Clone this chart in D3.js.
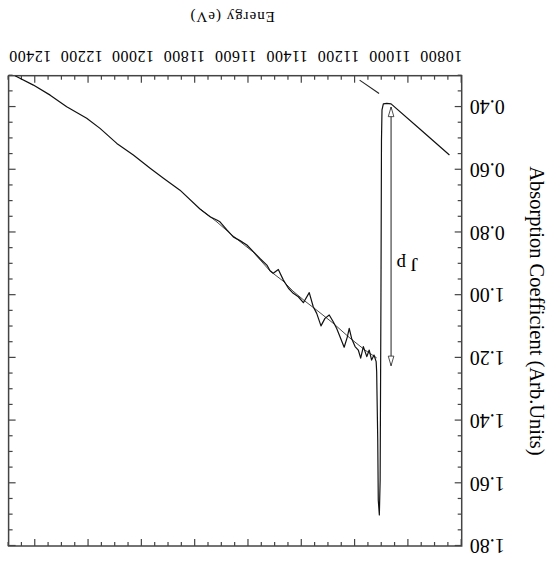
<!DOCTYPE html>
<html>
<head>
<meta charset="utf-8">
<script src="https://cdn.jsdelivr.net/npm/d3@7"></script>
<style>
  body { margin: 0; background: #fff; }
  svg { display: block; font-family: "Liberation Serif", "Times New Roman", serif; }
</style>
</head>
<body>
<svg id="chart" width="548" height="561"></svg>
<script>
// tick labels
const energyTicks = [10800, 11000, 11200, 11400, 11600, 11800, 12000, 12200, 12400];
const absTicks = [0.40, 0.60, 0.80, 1.00, 1.20, 1.40, 1.60, 1.80];

// measured spectrum (energy eV, absorption arb. units)
const specE = [10846, 10956, 11065, 11081, 11094, 11099, 11101, 11103, 11106, 11109, 11113, 11115, 11118,
  11119, 11121, 11129, 11138, 11147, 11156, 11169, 11179, 11188, 11200, 11213, 11222, 11229, 11241,
  11254, 11269, 11282, 11297, 11313, 11328, 11344, 11357, 11372, 11394, 11413, 11432, 11450, 11469,
  11488, 11507, 11519, 11531, 11557, 11582, 11606, 11632, 11657, 11681, 11707, 11719, 11744, 11782,
  11857, 11919, 11969, 12032, 12094, 12157, 12207, 12282, 12344, 12407, 12476];
const specA = [0.553, 0.471, 0.390, 0.388, 0.390, 0.409, 0.505, 1.015, 1.590, 1.701, 1.654, 1.462, 1.303,
  1.245, 1.212, 1.191, 1.207, 1.175, 1.196, 1.164, 1.201, 1.175, 1.164, 1.138, 1.106, 1.133, 1.166,
  1.138, 1.106, 1.085, 1.063, 1.074, 1.098, 1.058, 1.037, 0.992, 1.024, 1.005, 0.994, 0.978, 0.952,
  0.918, 0.930, 0.922, 0.904, 0.883, 0.861, 0.840, 0.826, 0.814, 0.792, 0.766, 0.760, 0.750, 0.725,
  0.665, 0.627, 0.595, 0.553, 0.516, 0.468, 0.436, 0.399, 0.362, 0.330, 0.300];

// smooth post-edge background
const fitE = [11119, 11163, 11219, 11283, 11339, 11388, 11433, 11470, 11519, 11583, 11658, 11722, 11782];
const fitA = [1.200, 1.175, 1.137, 1.089, 1.051, 1.019, 0.987, 0.955, 0.923, 0.862, 0.811, 0.764, 0.725];

// pre-edge line extrapolated past the edge
const preE = [11110, 11183];
const preA = [0.357, 0.314];

// edge jump marker
const jumpE = 11065;
const jumpA = [0.40, 1.225];

const margin = { left: 86.3, right: 8.6, top: 15, bottom: 75.7 };
const W = 548, H = 561;

const svg = d3.select("#chart");
// the whole figure is shown turned upside down
const g = svg.append("g").attr("transform", `rotate(180,${W / 2},${H / 2})`);

const x = d3.scaleLinear().domain([10800, 12500]).range([margin.left, W - margin.right]);
const y = d3.scaleLinear().domain([0.30, 1.80]).range([H - margin.bottom, margin.top]);
// tick labels in the original sit slightly tighter than the ticks
const xLab = d3.scaleLinear().domain([10800, 12400]).range([107, 518]);

const defs = svg.append("defs");
defs.append("clipPath").attr("id", "clip")
  .append("rect")
  .attr("x", x(10800)).attr("y", y(1.80))
  .attr("width", x(12500) - x(10800)).attr("height", y(0.30) - y(1.80));

defs.append("marker")
  .attr("id", "head")
  .attr("viewBox", "0 0 14 10")
  .attr("refX", 13).attr("refY", 5)
  .attr("markerWidth", 13).attr("markerHeight", 8)
  .attr("markerUnits", "userSpaceOnUse")
  .attr("orient", "auto-start-reverse")
  .append("path")
  .attr("d", "M1,1.5 L13,5 L1,8.5 Z")
  .attr("fill", "#fff").attr("stroke", "#222").attr("stroke-width", 1);

const axisColor = "#444";
const minorX = d3.range(10800, 12501, 50);
const minorY = d3.range(0.30, 1.801, 0.05);
const isMajorX = v => Math.abs((v - 10800) % 200) < 1e-6;
const isMajorY = v => Math.abs(Math.round(v * 100) % 20) === 0;

// inward ticks on all four sides
const axBottom = g.append("g").attr("transform", `translate(0,${y(0.30)})`)
  .call(d3.axisBottom(x).tickValues(minorX).tickSize(0).tickFormat(""));
axBottom.selectAll(".tick line").attr("y2", d => isMajorX(d) ? -7 : -4);
const axTop = g.append("g").attr("transform", `translate(0,${y(1.80)})`)
  .call(d3.axisTop(x).tickValues(minorX).tickSize(0).tickFormat(""));
axTop.selectAll(".tick line").attr("y2", d => isMajorX(d) ? 7 : 4);
const axLeft = g.append("g").attr("transform", `translate(${x(10800)},0)`)
  .call(d3.axisLeft(y).tickValues(minorY).tickSize(0).tickFormat(""));
axLeft.selectAll(".tick line").attr("x2", d => isMajorY(d) ? 7 : 4);
const axRight = g.append("g").attr("transform", `translate(${x(12500)},0)`)
  .call(d3.axisRight(y).tickValues(minorY).tickSize(0).tickFormat(""));
axRight.selectAll(".tick line").attr("x2", d => isMajorY(d) ? -7 : -4);

g.selectAll(".domain").remove();
g.selectAll(".tick line").attr("stroke", axisColor).attr("stroke-width", 1.2);

g.append("rect")
  .attr("x", x(10800)).attr("y", y(1.80))
  .attr("width", x(12500) - x(10800)).attr("height", y(0.30) - y(1.80))
  .attr("fill", "none").attr("stroke", axisColor).attr("stroke-width", 1.5);

// tick labels
g.selectAll(".xlab").data(energyTicks).enter().append("text")
  .attr("class", "xlab")
  .attr("x", d => xLab(d))
  .attr("y", y(0.30) + 25)
  .attr("text-anchor", "middle")
  .attr("font-size", 16)
  .attr("letter-spacing", 0.5)
  .text(d => d);

g.selectAll(".ylab").data(absTicks).enter().append("text")
  .attr("class", "ylab")
  .attr("x", x(10800) - 8)
  .attr("y", d => y(d))
  .attr("dy", "0.34em")
  .attr("text-anchor", "end")
  .attr("font-size", 20)
  .text(d => d3.format(".2f")(d));

// axis titles
g.append("text")
  .attr("x", (x(10800) + x(12500)) / 2 + 3)
  .attr("y", H - 12)
  .attr("text-anchor", "middle")
  .attr("font-size", 15)
  .attr("letter-spacing", 1)
  .text("Energy  (eV)");

g.append("text")
  .attr("transform", `translate(18,${(y(0.30) + y(1.80)) / 2}) rotate(-90)`)
  .attr("text-anchor", "middle")
  .attr("font-size", 20.5)
  .text("Absorption Coefficient  (Arb.Units)");

const plot = g.append("g").attr("clip-path", "url(#clip)");
const line = d3.line().x(d => x(d[0])).y(d => y(d[1]));

plot.append("path")
  .datum(fitE.map((e, i) => [e, fitA[i]]))
  .attr("d", line)
  .attr("fill", "none").attr("stroke", "#333").attr("stroke-width", 0.9);

plot.append("path")
  .datum(preE.map((e, i) => [e, preA[i]]))
  .attr("d", line)
  .attr("fill", "none").attr("stroke", "#222").attr("stroke-width", 1.1);

plot.append("path")
  .datum(specE.map((e, i) => [e, specA[i]]))
  .attr("d", line)
  .attr("fill", "none").attr("stroke", "#111").attr("stroke-width", 1.2)
  .attr("stroke-linejoin", "round");

// jump arrow
g.append("line")
  .attr("x1", x(jumpE)).attr("x2", x(jumpE))
  .attr("y1", y(jumpA[0])).attr("y2", y(jumpA[1]))
  .attr("stroke", "#222").attr("stroke-width", 1)
  .attr("marker-start", "url(#head)")
  .attr("marker-end", "url(#head)");

g.append("text")
  .attr("x", x(jumpE) - 27)
  .attr("y", y(0.88))
  .attr("font-size", 19)
  .text("J p");
</script>
</body>
</html>
